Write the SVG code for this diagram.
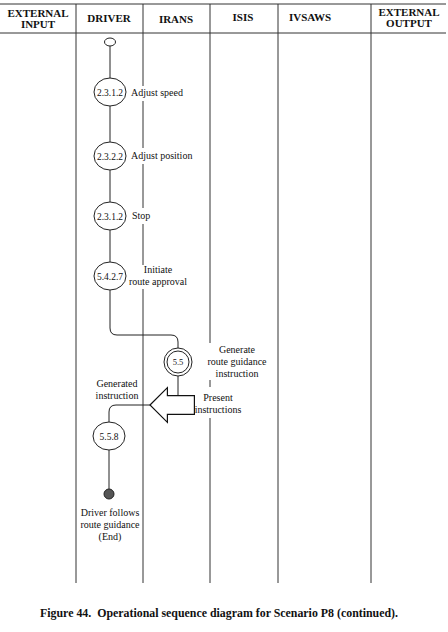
<svg xmlns="http://www.w3.org/2000/svg" width="448" height="632" viewBox="0 0 448 632">
<style>
.grid{stroke:#333;stroke-width:1;fill:none}
.conn{stroke:#222;stroke-width:1;fill:none}
.node{fill:#fff;stroke:#222;stroke-width:1}
.hdr{font-family:"Liberation Serif",serif;font-weight:bold;font-size:11px;fill:#111;text-anchor:middle}
.lbl{font-family:"Liberation Serif",serif;font-size:10px;fill:#111}
.mid{text-anchor:middle}
.nl{font-family:"Liberation Serif",serif;font-size:9.5px;fill:#111;text-anchor:middle}
.cap{font-family:"Liberation Serif",serif;font-weight:bold;font-size:11.5px;fill:#111;white-space:pre}
</style>
<rect width="448" height="632" fill="#fff"/>
<g id="grid">
<path class="grid" d="M0,4 H446 M0,33 H446"/>
<path class="grid" d="M76,4 V583"/>
<path class="grid" d="M143,4 V86 M143,101 V148 M143,164 V208 M143,224 V265 M143,289 V583"/>
<path class="grid" d="M210,4 V343 M210,380 V387 M210,418 V583"/>
<path class="grid" d="M278,4 V583"/>
<path class="grid" d="M371,4 V583"/>
</g>
<g id="headers">
<text class="hdr" x="38" y="17">EXTERNAL</text>
<text class="hdr" x="38" y="28">INPUT</text>
<text class="hdr" x="109" y="22">DRIVER</text>
<text class="hdr" x="176" y="23">IRANS</text>
<text class="hdr" x="243" y="21">ISIS</text>
<text class="hdr" x="310" y="21">IVSAWS</text>
<text class="hdr" x="409" y="16">EXTERNAL</text>
<text class="hdr" x="409" y="27">OUTPUT</text>
</g>
<g id="connectors">
<path class="conn" d="M110,46 V78"/>
<path class="conn" d="M110,106 V142"/>
<path class="conn" d="M110,170 V202"/>
<path class="conn" d="M110,230 V262"/>
<path class="conn" d="M110,290 V328 Q110,335 117,335 H171 Q178,335 178,342 V348"/>
<path class="conn" d="M178,376 V397"/>
<path class="conn" d="M152,405 H116 Q109,405 109,412 V422"/>
<path class="conn" d="M109,450 V489"/>
</g>
<g id="start"><ellipse cx="110" cy="42" rx="5.5" ry="4" class="node"/></g>
<g id="n1"><ellipse cx="110" cy="92" rx="16" ry="14" class="node"/><text class="nl" x="110" y="95.5">2.3.1.2</text><text class="lbl" x="131" y="96">Adjust speed</text></g>
<g id="n2"><ellipse cx="110" cy="156" rx="16" ry="14" class="node"/><text class="nl" x="110" y="159.5">2.3.2.2</text><text class="lbl" x="131" y="159">Adjust position</text></g>
<g id="n3"><ellipse cx="110" cy="216" rx="16" ry="14" class="node"/><text class="nl" x="110" y="219.5">2.3.1.2</text><text class="lbl" x="132" y="219">Stop</text></g>
<g id="n4"><ellipse cx="110" cy="276" rx="16" ry="14" class="node"/><text class="nl" x="110" y="279.5">5.4.2.7</text><text class="lbl mid" x="158" y="273">Initiate</text><text class="lbl mid" x="158" y="285">route approval</text></g>
<g id="n5"><circle cx="178" cy="362" r="14" class="node"/><circle cx="178" cy="362" r="11" class="node"/><text class="nl" x="178" y="365" style="font-size:8.5px">5.5</text><text class="lbl mid" x="237" y="353">Generate</text><text class="lbl mid" x="237" y="365">route guidance</text><text class="lbl mid" x="237" y="377">instruction</text></g>
<g id="arrow">
<path d="M152,405 L166,391 L166,397 L193,397 L193,413 L166,413 L166,419 Z" fill="#fff" stroke="#111" stroke-width="4" stroke-linejoin="miter"/>
<path d="M152,405 L166,391 L166,397 L193,397 L193,413 L166,413 L166,419 Z" fill="#fff" stroke="#fff" stroke-width="1.6" stroke-linejoin="miter"/>
<text class="lbl mid" x="218" y="401">Present</text><text class="lbl mid" x="218" y="413">instructions</text>
<text class="lbl mid" x="117" y="387">Generated</text><text class="lbl mid" x="117" y="399">instruction</text>
</g>
<g id="n6"><ellipse cx="109" cy="436" rx="16" ry="14" class="node"/><text class="nl" x="109" y="439.5">5.5.8</text></g>
<g id="end"><circle cx="109" cy="494" r="5" fill="#555" stroke="#222" stroke-width="1"/><text class="lbl mid" x="110" y="516">Driver follows</text><text class="lbl mid" x="110" y="528">route guidance</text><text class="lbl mid" x="110" y="540">(End)</text></g>
<text class="cap" x="40" y="617" textLength="358" lengthAdjust="spacingAndGlyphs">Figure 44.&#160; Operational sequence diagram for Scenario P8 (continued).</text>
</svg>
